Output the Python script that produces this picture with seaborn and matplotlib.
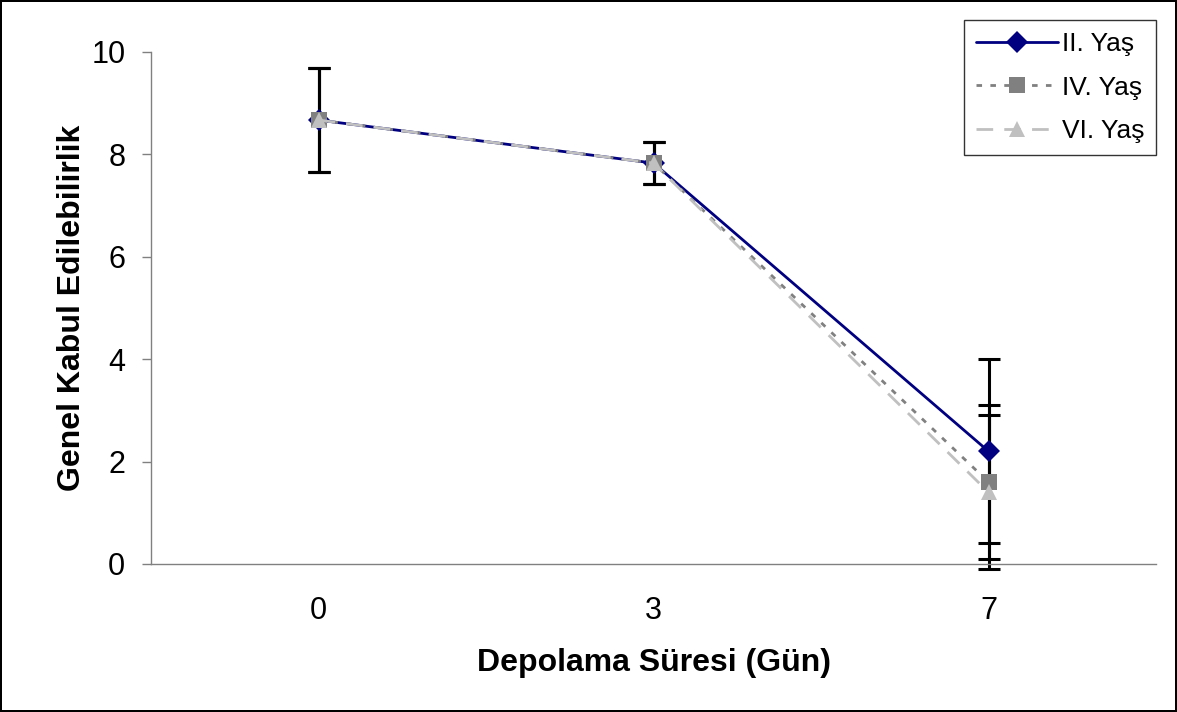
import numpy as np
import pandas as pd
import matplotlib
matplotlib.use("Agg")
import matplotlib.pyplot as plt
import seaborn as sns

# ── Data ───────────────────────────────────────────
days     = ["0", "3", "7"]
series   = ["II. Yaş", "IV. Yaş", "VI. Yaş"]
ii_mean  = [8.67, 7.83, 2.20]
iv_mean  = [8.67, 7.83, 1.60]
vi_mean  = [8.67, 7.83, 1.40]
ii_err   = [1.02, 0.41, 1.80]
iv_err   = [1.02, 0.41, 1.50]
vi_err   = [1.02, 0.41, 1.50]

means = [ii_mean, iv_mean, vi_mean]
errs  = [ii_err, iv_err, vi_err]

df = pd.DataFrame({
    "pos":   np.tile(np.arange(len(days)), len(series)),
    "value": np.concatenate(means),
    "grp":   np.repeat(series, len(days)),
})

colors  = {"II. Yaş": "#000080", "IV. Yaş": "#808080", "VI. Yaş": "#C0C0C0"}
markers = {"II. Yaş": "D", "IV. Yaş": "s", "VI. Yaş": "^"}
dashes  = {"II. Yaş": "", "IV. Yaş": (2, 3), "VI. Yaş": (6, 4)}

# ── Plot ───────────────────────────────────────────
sns.set_style("white")
plt.rcParams["font.family"] = ["Liberation Sans", "DejaVu Sans"]
plt.rcParams["text.color"] = "black"
plt.rcParams["xtick.color"] = "black"
plt.rcParams["ytick.color"] = "black"
plt.rcParams["axes.labelcolor"] = "black"

fig = plt.figure(figsize=(11.77, 7.12), dpi=100)
fig.patch.set_edgecolor("black")
fig.patch.set_linewidth(1.5)
ax = fig.add_axes([0.1283, 0.2079, 0.8539, 0.7191])

# error bars (behind markers)
for s, m, e in zip(series, means, errs):
    eb = ax.errorbar(np.arange(len(days)), m, yerr=e, fmt="none",
                     ecolor="black", elinewidth=2.2, capsize=8,
                     capthick=2.2, zorder=1)
    for art in eb.lines[1] + eb.lines[2]:
        art.set_clip_on(False)

sns.lineplot(data=df, x="pos", y="value", hue="grp", style="grp",
             palette=colors, markers=markers, dashes=dashes,
             markersize=11, markeredgewidth=0, linewidth=2,
             ax=ax, zorder=3, legend=False)

ax.set_xlim(-0.5, len(days) - 0.5)
ax.set_ylim(0, 10)
ax.set_yticks([0, 2, 4, 6, 8, 10])
ax.set_xticks(np.arange(len(days)))
ax.set_xticklabels(days)
ax.set_xticks(np.arange(len(days) + 1) - 0.5, minor=True)
ax.tick_params(axis="x", which="major", length=0, labelsize=22, pad=23)
ax.tick_params(axis="x", which="minor", length=6.5, color="#808080",
               direction="out", width=1)
ax.tick_params(axis="y", length=6.5, color="#808080", direction="out",
               width=1, labelsize=22, pad=12)
ax.tick_params(left=True)

for side in ["top", "right"]:
    ax.spines[side].set_visible(False)
for side in ["left", "bottom"]:
    ax.spines[side].set_color("#808080")
    ax.spines[side].set_linewidth(1)

ax.set_xlabel("Depolama Süresi (Gün)", fontsize=23, fontweight="bold",
              labelpad=16)
ax.set_ylabel("Genel Kabul Edilebilirlik", fontsize=23, fontweight="bold",
              labelpad=3)

# legend
handles = []
for s in series:
    h, = ax.plot([], [], color=colors[s], marker=markers[s], markersize=11,
                 markeredgewidth=0, linewidth=2,
                 dashes=dashes[s] if dashes[s] else (None, None),
                 linestyle="-" if not dashes[s] else "--")
    handles.append(h)
leg = ax.legend(handles, series, loc="upper right",
                bbox_to_anchor=(1.0, 1.0625), fontsize=19,
                frameon=True, fancybox=False, edgecolor="black",
                handlelength=3.1, handletextpad=0.15, borderpad=0.45,
                labelspacing=0.75, borderaxespad=0)
leg.get_frame().set_linewidth(1)

fig.savefig("out.png", dpi=100, edgecolor=fig.get_edgecolor())
